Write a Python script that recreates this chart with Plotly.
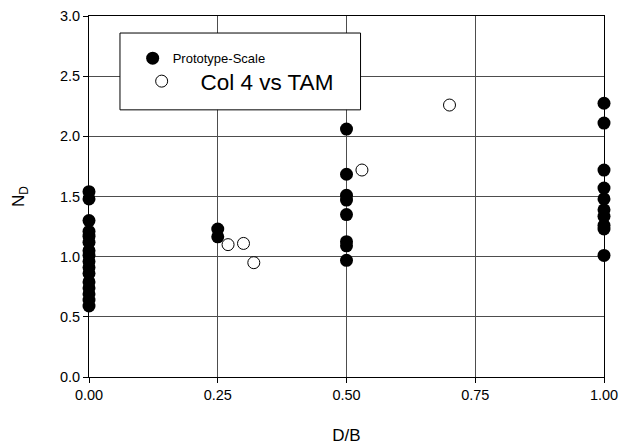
import plotly.graph_objects as go

# Prototype-Scale data (filled markers)
proto_x = [0.0]*16 + [0.25]*2 + [0.5]*8 + [1.0]*10
proto_y = [1.54, 1.48, 1.30, 1.21, 1.17, 1.12, 1.05, 1.01, 0.96, 0.91, 0.86, 0.79, 0.74, 0.69, 0.64, 0.59,
           1.23, 1.165,
           2.06, 1.685, 1.51, 1.47, 1.35, 1.125, 1.09, 0.97,
           2.275, 2.11, 1.72, 1.57, 1.48, 1.39, 1.335, 1.26, 1.23, 1.01]

# Col 4 vs TAM data (open markers)
col4_x = [0.27, 0.30, 0.32, 0.53, 0.70]
col4_y = [1.10, 1.11, 0.95, 1.72, 2.26]

x_ticks = [0.0, 0.25, 0.5, 0.75, 1.0]
x_ticklabels = ["0.00", "0.25", "0.50", "0.75", "1.00"]
y_ticks = [0.0, 0.5, 1.0, 1.5, 2.0, 2.5, 3.0]
y_ticklabels = ["0.0", "0.5", "1.0", "1.5", "2.0", "2.5", "3.0"]

FONT = "Liberation Sans, Arial, Helvetica, sans-serif"

W, H = 627, 445
L, R, T, B = 89, 22.7, 16.3, 68.3
pw = W - L - R
ph = H - T - B


def px_to_paper_x(px):
    return (px - L) / pw


def px_to_paper_y(py):
    return (H - B - py) / ph


fig = go.Figure()
fig.add_trace(go.Scatter(
    x=proto_x, y=proto_y, mode="markers", name="Prototype-Scale",
    marker=dict(symbol="circle", size=13, color="black", line=dict(width=0)),
    cliponaxis=False, legend="legend"))
fig.add_trace(go.Scatter(
    x=col4_x, y=col4_y, mode="markers", name="\u00a0\u00a0\u00a0Col 4 vs TAM",
    marker=dict(symbol="circle", size=12, color="white", line=dict(width=1, color="black")),
    cliponaxis=False, legend="legend2"))

axis_common = dict(
    showgrid=True, gridcolor="#4d4d4d", gridwidth=1,
    showline=True, linecolor="black", linewidth=1, mirror=True,
    ticks="outside", ticklen=5, tickwidth=1, tickcolor="black",
    zeroline=False, tickfont=dict(family=FONT, size=14.5, color="black"),
)

fig.update_xaxes(range=[0, 1], tickvals=x_ticks, ticktext=x_ticklabels,
                 title=dict(text="D/B", font=dict(family=FONT, size=17, color="black"), standoff=26),
                 **axis_common)
fig.update_yaxes(range=[0, 3], tickvals=y_ticks, ticktext=y_ticklabels,
                 title=dict(text="N<sub>D</sub>", font=dict(family=FONT, size=17, color="black"), standoff=30),
                 **axis_common)

# legend box
fig.add_shape(type="rect", xref="paper", yref="paper",
              x0=px_to_paper_x(120), x1=px_to_paper_x(360.7),
              y0=px_to_paper_y(110), y1=px_to_paper_y(33.3),
              line=dict(color="black", width=1), fillcolor="white", layer="above")

fig.update_layout(
    width=W, height=H,
    margin=dict(l=L, r=R, t=T, b=B, autoexpand=False),
    paper_bgcolor="white", plot_bgcolor="white",
    font=dict(family=FONT, color="black"),
    showlegend=True,
    legend=dict(x=px_to_paper_x(132.7), y=px_to_paper_y(58.5), xanchor="left", yanchor="middle",
                bgcolor="rgba(0,0,0,0)", borderwidth=0,
                font=dict(family=FONT, size=13, color="black")),
    legend2=dict(x=px_to_paper_x(141.7), y=px_to_paper_y(81.7), xanchor="left", yanchor="middle",
                 bgcolor="rgba(0,0,0,0)", borderwidth=0,
                 font=dict(family=FONT, size=22.5, color="black")),
)

fig.write_html("out.html", config={"displayModeBar": False},
               post_script="document.body.style.margin='0px';document.body.style.overflow='hidden';")
